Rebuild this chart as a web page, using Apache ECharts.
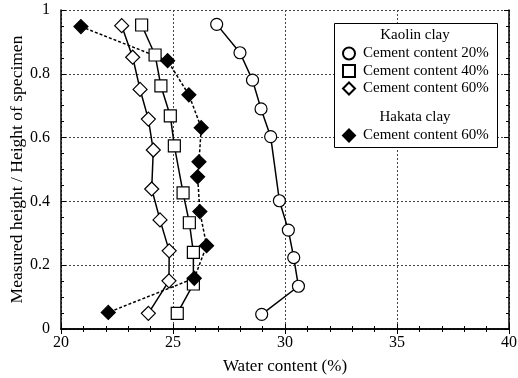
<!DOCTYPE html>
<html>
<head>
<meta charset="utf-8">
<script src="https://cdn.jsdelivr.net/npm/echarts@6/dist/echarts.min.js"></script>
<style>
  html, body { margin: 0; padding: 0; background: #fff; }
  #chart { width: 518px; height: 378px; }
</style>
</head>
<body>
<div id="chart"></div>
<script>
// water content (%) and relative height, read from top of specimen to bottom
var kaolin20X = [26.95, 27.99, 28.55, 28.93, 29.36, 29.75, 30.15, 30.39, 30.6, 28.96];
var kaolin20Y = [0.955, 0.866, 0.78, 0.69, 0.603, 0.402, 0.31, 0.224, 0.134, 0.046];

var kaolin40X = [23.6, 24.2, 24.46, 24.88, 25.06, 25.45, 25.73, 25.91, 25.91, 25.19];
var kaolin40Y = [0.953, 0.859, 0.762, 0.668, 0.574, 0.427, 0.333, 0.24, 0.141, 0.049];

var kaolin60X = [22.71, 23.2, 23.53, 23.9, 24.12, 24.05, 24.42, 24.83, 24.82, 23.9];
var kaolin60Y = [0.951, 0.852, 0.751, 0.658, 0.561, 0.439, 0.342, 0.245, 0.151, 0.049];

var hakata60X = [20.89, 24.76, 25.71, 26.26, 26.16, 26.1, 26.2, 26.5, 25.95, 22.11];
var hakata60Y = [0.948, 0.841, 0.734, 0.631, 0.524, 0.477, 0.368, 0.261, 0.159, 0.052];

var kaolinNames = ['Cement content 20%', 'Cement content 40%', 'Cement content 60%'];
var hakataName = 'Cement content 60% ';

function pairs(xs, ys) {
    var out = [];
    for (var i = 0; i < xs.length; i++) {
        out.push([xs[i], ys[i]]);
    }
    return out;
}

var font = 'Liberation Serif, Times New Roman, serif';

function makeSeries(name, xs, ys, symbol, fill, dashed) {
    return {
        name: name,
        type: 'line',
        data: pairs(xs, ys),
        symbol: symbol,
        symbolSize: symbol === 'diamond' ? 14 : 12,
        showSymbol: true,
        lineStyle: { color: '#000', width: 1.5, type: dashed ? [3, 2] : 'solid' },
        itemStyle: { color: fill, borderColor: '#000', borderWidth: 1.2 },
        emphasis: { disabled: true },
        z: 3
    };
}

var chart = echarts.init(document.getElementById('chart'));

var tickCommon = {
    axisLine: { lineStyle: { color: '#000', width: 1.5 } },
    axisTick: { inside: true, length: 5, lineStyle: { color: '#000' } }
};

var option = {
    animation: false,
    grid: { left: 61, right: 9, top: 10, bottom: 49, outerBoundsMode: 'none' },
    textStyle: { fontFamily: font },
    xAxis: [{
        type: 'value', min: 20, max: 40, interval: 5,
        name: 'Water content (%)', nameLocation: 'middle', nameGap: 29,
        nameMoveOverlap: false,
        nameTextStyle: { fontFamily: font, fontSize: 17, color: '#000' },
        axisLine: tickCommon.axisLine,
        axisTick: tickCommon.axisTick,
        minorTick: { show: true, splitNumber: 5, length: 3, lineStyle: { color: '#000' } },
        axisLabel: { fontFamily: font, fontSize: 16, color: '#000', margin: 6 },
        splitLine: { show: true, lineStyle: { color: '#444', type: [2, 2], width: 1 } }
    }, {
        type: 'value', min: 20, max: 40, interval: 5, position: 'top',
        axisLine: tickCommon.axisLine,
        axisTick: tickCommon.axisTick,
        minorTick: { show: true, splitNumber: 5, length: 3, lineStyle: { color: '#000' } },
        axisLabel: { show: false },
        splitLine: { show: false }
    }],
    yAxis: [{
        type: 'value', min: 0, max: 1, interval: 0.2,
        name: 'Measured height / Height of specimen', nameLocation: 'middle', nameGap: 35,
        nameMoveOverlap: false,
        nameTextStyle: { fontFamily: font, fontSize: 17.5, color: '#000' },
        axisLine: tickCommon.axisLine,
        axisTick: tickCommon.axisTick,
        minorTick: { show: true, splitNumber: 4, length: 3, lineStyle: { color: '#000' } },
        axisLabel: { fontFamily: font, fontSize: 16, color: '#000', margin: 11,
            formatter: function (v) { return v === 0 || v === 1 ? String(v) : v.toFixed(1); } },
        splitLine: { show: true, lineStyle: { color: '#444', type: [2, 2], width: 1 } }
    }, {
        type: 'value', min: 0, max: 1, interval: 0.2, position: 'right',
        axisLine: tickCommon.axisLine,
        axisTick: tickCommon.axisTick,
        minorTick: { show: true, splitNumber: 4, length: 3, lineStyle: { color: '#000' } },
        axisLabel: { show: false },
        splitLine: { show: false }
    }],
    legend: [{
        data: [
            { name: kaolinNames[0], icon: 'circle' },
            { name: kaolinNames[1], icon: 'rect' },
            { name: kaolinNames[2], icon: 'diamond' }
        ],
        orient: 'vertical', left: 337, top: 41,
        itemWidth: 12, itemHeight: 12, itemGap: 2.5,
        selectedMode: false,
        textStyle: { fontFamily: font, fontSize: 15, color: '#000', padding: [0, 0, 0, 3] }
    }, {
        data: [{ name: hakataName, icon: 'diamond' }],
        orient: 'vertical', left: 337, top: 123,
        itemWidth: 12, itemHeight: 12,
        selectedMode: false,
        textStyle: { fontFamily: font, fontSize: 15, color: '#000', padding: [0, 0, 0, 3] }
    }],
    graphic: [{
        type: 'rect', left: 334, top: 23, z: 1,
        shape: { width: 163, height: 124 },
        style: { fill: '#fff', stroke: '#000', lineWidth: 1 }
    }, {
        type: 'text', x: 415, y: 35, z: 2,
        style: { text: 'Kaolin clay', fill: '#000', font: '15px ' + font,
            textAlign: 'center', textVerticalAlign: 'middle' }
    }, {
        type: 'text', x: 415, y: 117, z: 2,
        style: { text: 'Hakata clay', fill: '#000', font: '15px ' + font,
            textAlign: 'center', textVerticalAlign: 'middle' }
    }],
    series: [
        makeSeries(kaolinNames[0], kaolin20X, kaolin20Y, 'circle', '#fff', false),
        makeSeries(kaolinNames[1], kaolin40X, kaolin40Y, 'rect', '#fff', false),
        makeSeries(kaolinNames[2], kaolin60X, kaolin60Y, 'diamond', '#fff', false),
        makeSeries(hakataName, hakata60X, hakata60Y, 'diamond', '#000', true)
    ]
};

chart.setOption(option);
</script>
</body>
</html>
